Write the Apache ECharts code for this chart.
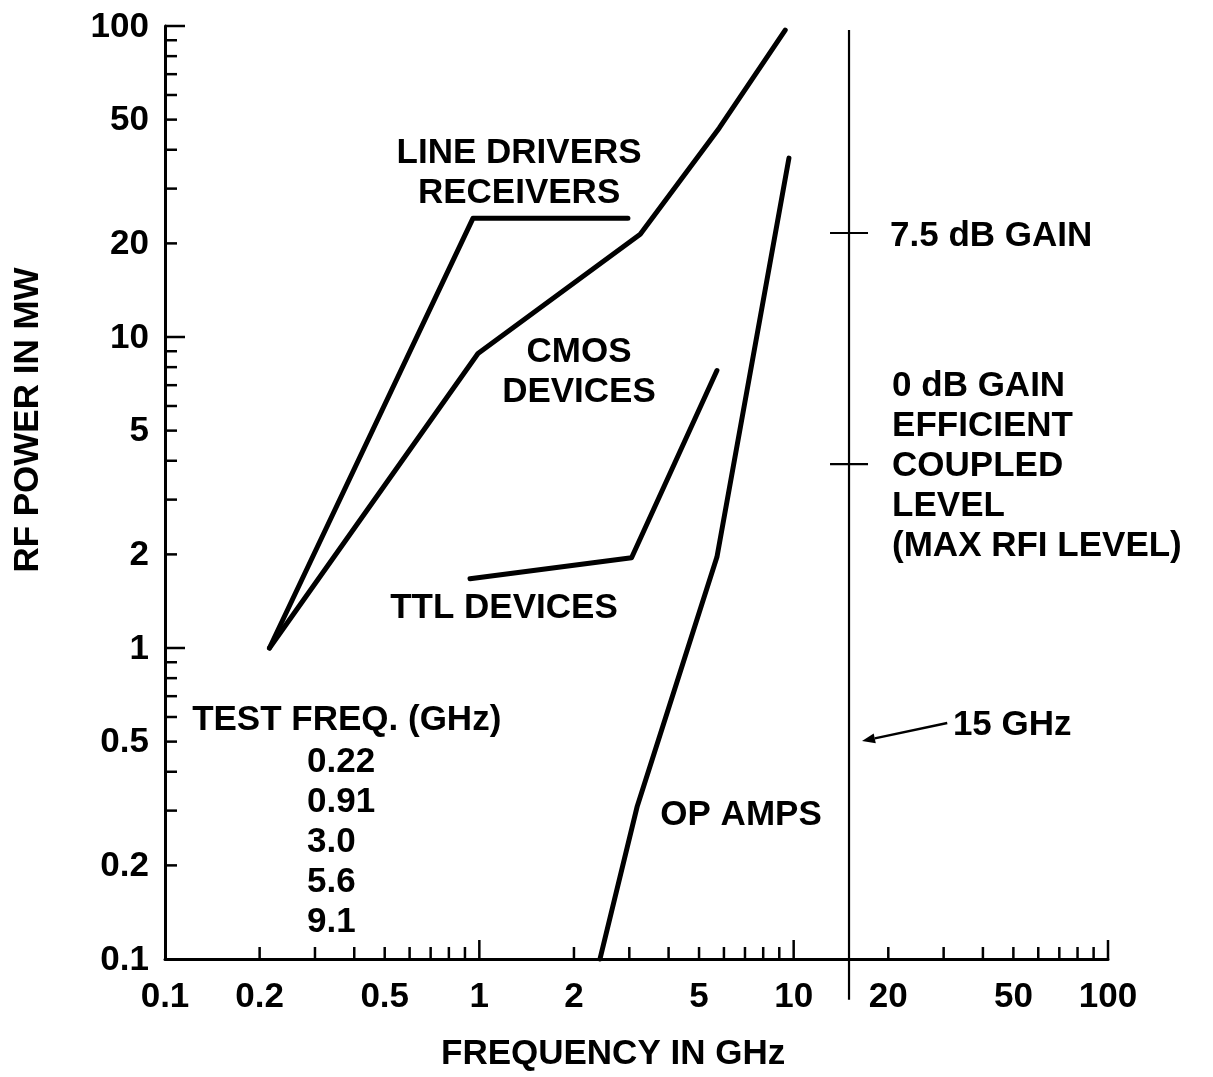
<!DOCTYPE html>
<html><head><meta charset="utf-8">
<script src="https://cdn.jsdelivr.net/npm/echarts@6/dist/echarts.min.js"></script>
<style>html,body{margin:0;padding:0;background:#fff}#chart{width:1213px;height:1077px}</style>
</head><body><div id="chart"></div>
<script>
// ---- data ----
const lineDrivers = [[0.215, 1.0], [0.955, 24.1], [2.97, 24.1]];
const cmosDevices = [[0.215, 1.0], [0.99, 8.85], [3.25, 21.4], [5.8, 47], [9.4, 97]];
const ttlDevices  = [[0.934, 1.67], [3.05, 1.95], [5.7, 7.8]];
const opAmps      = [[2.42, 0.1], [3.18, 0.31], [5.7, 1.96], [9.66, 37.6]];

const xTickValues = [0.2,0.3,0.4,0.5,0.6,0.7,0.8,0.9,1,2,3,4,5,6,7,8,9,10,20,30,40,50,60,70,80,90,100];
const yTickValues = [0.2,0.3,0.4,0.5,0.6,0.7,0.8,0.9,1,2,3,4,5,6,7,8,9,10,20,30,40,50,60,70,80,90,100];
const majorTicks  = [1, 10, 100];
const xTickLabels = [0.1, 0.2, 0.5, 1, 2, 5, 10, 20, 50, 100];
const yTickLabels = [0.1, 0.2, 0.5, 1, 2, 5, 10, 20, 50, 100];

const refLineX = 15;              // 15 GHz marker line
const refLineSpan = [97, 0.074];  // top / bottom power values of the marker line
const gainLevels = [21.6, 3.9];   // 7.5 dB gain, 0 dB gain
const arrowFrom = [30.8, 0.574];
const arrowTo   = [16.5, 0.502];

const xTitle = 'FREQUENCY IN GHz';
const yTitle = 'RF POWER IN MW';

const annotations = [
  { x: 1.338, y: 33.7,  text: 'LINE DRIVERS\nRECEIVERS', align: 'center' },
  { x: 2.075, y: 7.72,  text: 'CMOS\nDEVICES', align: 'center' },
  { x: 1.198, y: 1.345, text: 'TTL DEVICES', align: 'center' },
  { x: 6.80,  y: 0.290, text: 'OP AMPS', align: 'center' },
  { x: 0.122, y: 0.587, text: 'TEST FREQ. (GHz)', align: 'left' },
  { x: 0.283, y: 0.2377, text: '0.22\n0.91\n3.0\n5.6\n9.1', align: 'left' },
  { x: 20.26, y: 21.1,  text: '7.5 dB GAIN', align: 'left' },
  { x: 20.56, y: 3.85,  text: '0 dB GAIN\nEFFICIENT\nCOUPLED\nLEVEL\n(MAX RFI LEVEL)', align: 'left' },
  { x: 32.1,  y: 0.565, text: '15 GHz', align: 'left' }
];

const X_MIN = 0.1, X_MAX = 100, Y_MIN = 0.1, Y_MAX = 100;
const FAMILY = '"Liberation Sans", Arial, sans-serif';
const FONT = 'bold 35px ' + FAMILY;
const INK = '#000';

const chart = echarts.init(document.getElementById('chart'));

function lineSeries(name, data) {
  return {
    name, type: 'line', data, showSymbol: false, symbol: 'none', silent: true,
    lineStyle: { color: INK, width: 5, cap: 'round', join: 'round' },
    clip: false, z: 5
  };
}

const option = {
  animation: false,
  backgroundColor: '#fff',
  grid: { left: 165, right: 105, top: 26, bottom: 118 },
  graphic: [
    { type: 'text', left: 441, top: 1037, style: { text: xTitle, font: FONT, fill: INK } },
    { type: 'text', x: 28, y: 420, rotation: Math.PI / 2,
      style: { text: yTitle, font: FONT, fill: INK, align: 'center', verticalAlign: 'middle' } }
  ],
  xAxis: {
    type: 'log', logBase: 10, min: X_MIN, max: X_MAX,
    axisLine: { show: true, lineStyle: { color: INK, width: 3 } },
    axisTick: { show: false }, axisLabel: { show: false }, splitLine: { show: false }
  },
  yAxis: {
    type: 'log', logBase: 10, min: Y_MIN, max: Y_MAX,
    axisLine: { show: true, lineStyle: { color: INK, width: 3 } },
    axisTick: { show: false }, axisLabel: { show: false }, splitLine: { show: false }
  },
  series: [
    lineSeries('LINE DRIVERS RECEIVERS', lineDrivers),
    lineSeries('CMOS DEVICES', cmosDevices),
    lineSeries('TTL DEVICES', ttlDevices),
    lineSeries('OP AMPS', opAmps),
    { // x ticks
      type: 'custom', silent: true, z: 3,
      data: xTickValues.map(v => [v, Y_MIN]),
      renderItem(params, api) {
        const v = xTickValues[params.dataIndex];
        const p = api.coord([v, Y_MIN]);
        const len = majorTicks.includes(v) ? 19 : 12;
        return { type: 'line', shape: { x1: p[0], y1: p[1], x2: p[0], y2: p[1] - len },
                 style: { stroke: INK, lineWidth: 2.5 } };
      }
    },
    { // y ticks
      type: 'custom', silent: true, z: 3,
      data: yTickValues.map(v => [X_MIN, v]),
      renderItem(params, api) {
        const v = yTickValues[params.dataIndex];
        const p = api.coord([X_MIN, v]);
        const len = majorTicks.includes(v) ? 20 : 12;
        return { type: 'line', shape: { x1: p[0], y1: p[1], x2: p[0] + len, y2: p[1] },
                 style: { stroke: INK, lineWidth: 2.5 } };
      }
    },
    { // x tick labels
      type: 'custom', silent: true,
      data: xTickLabels.map(v => [v, Y_MIN]),
      renderItem(params, api) {
        const v = xTickLabels[params.dataIndex];
        const p = api.coord([v, Y_MIN]);
        return { type: 'text', style: { text: String(v), x: p[0], y: p[1] + 38,
                 align: 'center', verticalAlign: 'middle', font: FONT, fill: INK } };
      }
    },
    { // y tick labels
      type: 'custom', silent: true,
      data: yTickLabels.map(v => [X_MIN, v]),
      renderItem(params, api) {
        const v = yTickLabels[params.dataIndex];
        const p = api.coord([X_MIN, v]);
        return { type: 'text', style: { text: String(v), x: p[0] - 16, y: p[1] + 1,
                 align: 'right', verticalAlign: 'middle', font: FONT, fill: INK } };
      }
    },
    { // 15 GHz marker line with gain ticks
      type: 'custom', silent: true, z: 4,
      data: [[refLineX, refLineSpan[0]]],
      renderItem(params, api) {
        const top = api.coord([refLineX, refLineSpan[0]]);
        const bot = api.coord([refLineX, refLineSpan[1]]);
        const children = [{ type: 'line', shape: { x1: top[0], y1: top[1], x2: bot[0], y2: bot[1] },
                            style: { stroke: INK, lineWidth: 2.2 } }];
        gainLevels.forEach(g => {
          const q = api.coord([refLineX, g]);
          children.push({ type: 'line', shape: { x1: q[0] - 19, y1: q[1], x2: q[0] + 19, y2: q[1] },
                          style: { stroke: INK, lineWidth: 2.2 } });
        });
        return { type: 'group', children };
      }
    },
    { // arrow to 15 GHz line
      type: 'custom', silent: true, z: 4,
      data: [arrowFrom],
      renderItem(params, api) {
        const a = api.coord(arrowFrom);
        const b = api.coord(arrowTo);
        const ang = Math.atan2(b[1] - a[1], b[0] - a[0]);
        const L = 13, W = 5;
        const bx = b[0] - L * Math.cos(ang), by = b[1] - L * Math.sin(ang);
        const nx = -Math.sin(ang), ny = Math.cos(ang);
        return { type: 'group', children: [
          { type: 'line', shape: { x1: a[0], y1: a[1], x2: bx, y2: by }, style: { stroke: INK, lineWidth: 2.5 } },
          { type: 'polygon', shape: { points: [[b[0], b[1]], [bx + nx * W, by + ny * W], [bx - nx * W, by - ny * W]] },
            style: { fill: INK } }
        ]};
      }
    },
    { // text annotations
      type: 'custom', silent: true, z: 6,
      data: annotations.map(a => [a.x, a.y]),
      renderItem(params, api) {
        const a = annotations[params.dataIndex];
        const p = api.coord([a.x, a.y]);
        return { type: 'text', style: { text: a.text, x: p[0], y: p[1], align: a.align,
                 verticalAlign: 'middle', font: FONT, fill: INK, lineHeight: 40 } };
      }
    }
  ]
};
chart.setOption(option);
</script>
</body></html>
